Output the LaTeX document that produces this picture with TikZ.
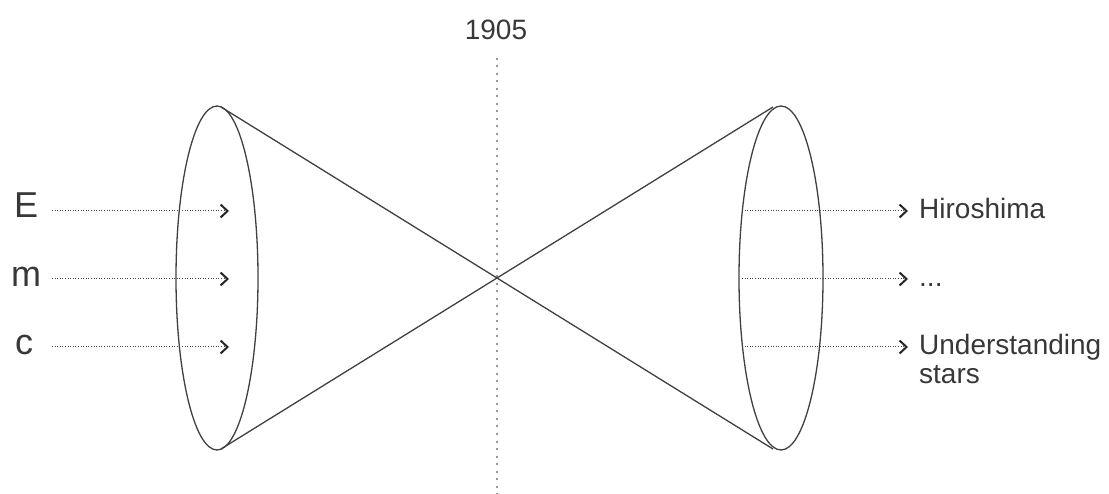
\documentclass[tikz,border=0pt]{standalone}
\usepackage{fontspec}
\setmainfont{Liberation Sans}
\usetikzlibrary{arrows.meta}
\begin{document}
\begin{tikzpicture}[x=1pt,y=-1pt,
  lbl/.style={inner sep=0pt,font=\fontsize{28}{29}\selectfont,text=black!78},
  big/.style={inner sep=0pt,font=\fontsize{36}{40}\selectfont,text=black!78},
  outline/.style={draw=black!75,line width=1.3pt},
  flow/.style={draw=black!72,line width=1pt,dash pattern=on 1pt off 1.6pt,
    -{Straight Barb[length=7pt,width=13pt,line width=2pt,color=black!85]}},
  axis/.style={draw=black!40,line width=1.3pt,dash pattern=on 2pt off 5.5pt}]
\useasboundingbox (0,0) rectangle (1109,494);
% year axis
\node[lbl,anchor=base] (year) at (496,40) {1905};
\coordinate (axtop) at (497,58);
\coordinate (axbot) at (497,494);
\draw[axis] (axtop) -- (axbot);
% cones
\draw[outline] (217,278) ellipse [x radius=41,y radius=172];
\draw[outline] (781,278) ellipse [x radius=42,y radius=172];
\coordinate (ltop) at (221,107);
\coordinate (lbot) at (221,449);
\coordinate (rtop) at (773,107);
\coordinate (rbot) at (773,449);
\draw[outline] (ltop) -- (rbot);
\draw[outline] (lbot) -- (rtop);
% inputs
\node[big,anchor=base west] (E) at (14,218) {E};
\node[big,anchor=base west] (m) at (11,287) {m};
\node[big,anchor=base west] (c) at (15,355) {c};
\coordinate (Es) at (52,211);
\coordinate (ms) at (52,279);
\coordinate (cs) at (52,347);
\coordinate (Ein) at (229,211);
\coordinate (min) at (229,279);
\coordinate (cin) at (229,347);
\draw[flow] (Es) -- (Ein);
\draw[flow] (ms) -- (min);
\draw[flow] (cs) -- (cin);
% outputs
\coordinate (o1) at (742,211);
\coordinate (o2) at (742,279);
\coordinate (o3) at (742,347);
\coordinate (t1) at (908,211);
\coordinate (t2) at (908,279);
\coordinate (t3) at (908,347);
\node[lbl,anchor=base west] (hiro) at (919,219) {Hiroshima};
\node[lbl,anchor=base west] (dots) at (919,287) {...};
\node[lbl,anchor=base west,align=left] (stars) at (919,384) {Understanding\\stars};
\draw[flow] (o1) -- (t1);
\draw[flow] (o2) -- (t2);
\draw[flow] (o3) -- (t3);
\end{tikzpicture}
\end{document}
